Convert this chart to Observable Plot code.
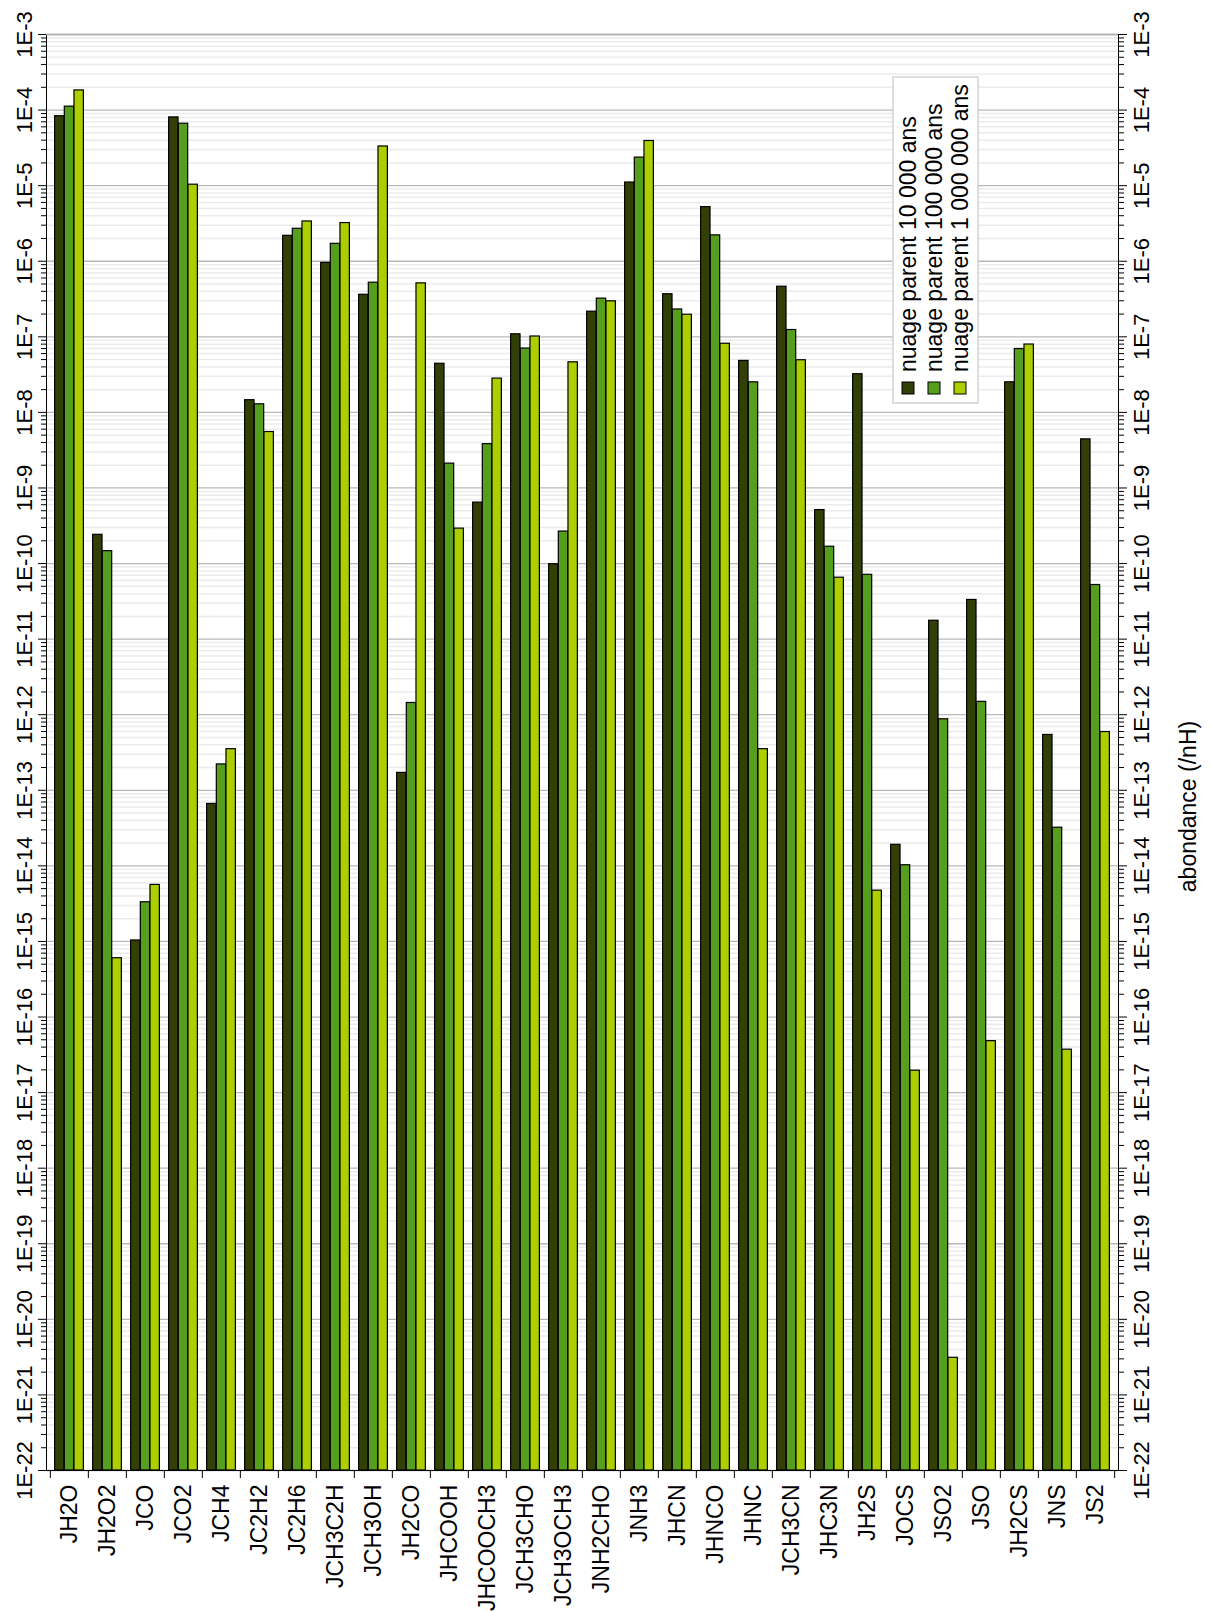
<!DOCTYPE html>
<html><head><meta charset="utf-8">
<script src="https://cdn.jsdelivr.net/npm/d3@7"></script>
<script src="https://cdn.jsdelivr.net/npm/@observablehq/plot@0.6"></script>
<style>
body{margin:0;background:#fff;}
#wrap{width:1211px;height:1611px;font-family:"Liberation Sans",Arial,sans-serif;}
</style></head><body><div id="wrap"></div>
<script>
const species = ["JH2O","JH2O2","JCO","JCO2","JCH4","JC2H2","JC2H6","JCH3C2H","JCH3OH","JH2CO","JHCOOH","JHCOOCH3","JCH3CHO","JCH3OCH3","JNH2CHO","JNH3","JHCN","JHNCO","JHNC","JCH3CN","JHC3N","JH2S","JOCS","JSO2","JSO","JH2CS","JNS","JS2"];
const seriesNames = ["nuage parent 10 000 ans","nuage parent 100 000 ans","nuage parent 1 000 000 ans"];
const v10k  = [8.3e-5,2.4e-10,1.03e-15,8.0e-5,6.6e-14,1.45e-8,2.17e-6,9.5e-7,3.6e-7,1.7e-13,4.4e-8,6.4e-10,1.08e-7,9.8e-11,2.15e-7,1.1e-5,3.66e-7,5.2e-6,4.8e-8,4.6e-7,5.1e-10,3.2e-8,1.9e-14,1.75e-11,3.3e-11,2.5e-8,5.4e-13,4.4e-9];
const v100k = [1.11e-4,1.46e-10,3.3e-15,6.6e-5,2.2e-13,1.28e-8,2.69e-6,1.7e-6,5.2e-7,1.43e-12,2.1e-9,3.8e-9,7.0e-8,2.65e-10,3.2e-7,2.35e-5,2.3e-7,2.2e-6,2.5e-8,1.23e-7,1.67e-10,7.1e-11,1.02e-14,8.7e-13,1.48e-12,6.9e-8,3.2e-14,5.2e-11];
const v1M   = [1.82e-4,6.0e-16,5.6e-15,1.03e-5,3.5e-13,5.5e-9,3.36e-6,3.2e-6,3.3e-5,5.1e-7,2.9e-10,2.8e-8,1.01e-7,4.6e-8,2.95e-7,3.9e-5,1.96e-7,8.1e-8,3.5e-13,4.9e-8,6.5e-11,4.7e-15,1.95e-17,3.1e-21,4.8e-17,7.9e-8,3.7e-17,5.9e-13];
const colors = ["#334005","#559e1e","#adcf00"];
const tickExponents = [-22,-21,-20,-19,-18,-17,-16,-15,-14,-13,-12,-11,-10,-9,-8,-7,-6,-5,-4,-3];
const tickLabels = tickExponents.map(e => "1E" + e);
const axisTitle = "abondance (/nH)";

const W = 1211, H = 1611, mL = 46, mR = 93, mT = 34, mB = 141;
const step = (W - mL - mR) / species.length;
const barW = 9.67;
const off = (step - 3 * barW) / 2;
const yFloor = 1e-22;
const seriesValues = [v10k, v100k, v1M];
const majors = tickExponents.map((e, i) => ({v: Math.pow(10, e), label: tickLabels[i]}));
const minors = [];
tickExponents.slice(0, -1).forEach(e => { for (let m = 2; m <= 9; m++) minors.push(m * Math.pow(10, e)); });

const barMarks = seriesValues.map((vals, i) =>
  Plot.barY(species.map((s, j) => ({species: s, value: vals[j]})), {
    x: "species", y1: () => yFloor, y2: "value",
    fill: colors[i], stroke: "black", strokeWidth: 1.2,
    insetLeft: off + i * barW, insetRight: step - (off + (i + 1) * barW)
  }));

const plot = Plot.plot({
  width: W, height: H,
  marginLeft: mL, marginRight: mR, marginTop: mT, marginBottom: mB,
  style: {fontFamily: '"Liberation Sans", Arial, sans-serif', background: "white"},
  x: {type: "band", domain: species, padding: 0},
  y: {type: "log", domain: [1e-22, 1e-3]},
  marks: [
    Plot.ruleY(minors, {stroke: "#ebebeb", strokeWidth: 1.5}),
    Plot.ruleY(majors, {y: "v", stroke: "#b8b8b8", strokeWidth: 1.3}),
    ...barMarks,
    Plot.frame({stroke: "black", strokeWidth: 1}),
    Plot.ruleY([1e-3], {stroke: "#b0b0b0", strokeWidth: 1.5}),
    Plot.axisX({tickSize: 0, tickPadding: 14, tickRotate: -90, fontSize: 23, label: null}),
    Plot.axisX({ticks: species, tickSize: 8, tickFormat: () => "", dx: -step / 2, label: null}),
    Plot.axisX({ticks: [species[species.length - 1]], tickSize: 8, tickFormat: () => "", dx: step / 2, label: null}),
    Plot.axisY({anchor: "left", ticks: majors.map(d => d.v), tickSize: 8, tickFormat: () => "", label: null}),
    Plot.axisY({anchor: "left", ticks: minors, tickSize: 5, tickFormat: () => "", label: null}),
    Plot.axisY({anchor: "right", ticks: majors.map(d => d.v), tickSize: 8, tickFormat: () => "", label: null}),
    Plot.axisY({anchor: "right", ticks: minors, tickSize: 5, tickFormat: () => "", label: null}),
    Plot.text(majors, {y: "v", text: "label", frameAnchor: "left", dx: -15, rotate: -90, textAnchor: "middle", lineAnchor: "bottom", fontSize: 22, fill: "black"}),
    Plot.text(majors, {y: "v", text: "label", frameAnchor: "right", dx: 15, rotate: -90, textAnchor: "middle", lineAnchor: "top", fontSize: 22, fill: "black"}),
    Plot.text([axisTitle], {text: d => d, frameAnchor: "right", dx: 61, dy: 54, rotate: -90, textAnchor: "middle", lineAnchor: "top", fontSize: 23, fill: "black"})
  ]
});

// legend (rotated like the rest of the figure)
const svg = d3.select(plot);
const lg = svg.append("g").attr("transform", "translate(893,403) rotate(-90)");
lg.append("rect").attr("x", 0).attr("y", 0).attr("width", 326).attr("height", 85)
  .attr("fill", "white").attr("stroke", "#c8c8c8").attr("stroke-width", 1.2);
seriesNames.forEach((name, i) => {
  lg.append("rect").attr("x", 9).attr("y", 9 + 26 * i).attr("width", 12).attr("height", 12)
    .attr("fill", colors[i]).attr("stroke", "black").attr("stroke-width", 1);
  lg.append("text").attr("x", 31).attr("y", 23 + 26 * i).attr("font-size", 23)
    .attr("text-anchor", "start").attr("fill", "black").text(name);
});

document.getElementById("wrap").appendChild(plot);
</script></body></html>
